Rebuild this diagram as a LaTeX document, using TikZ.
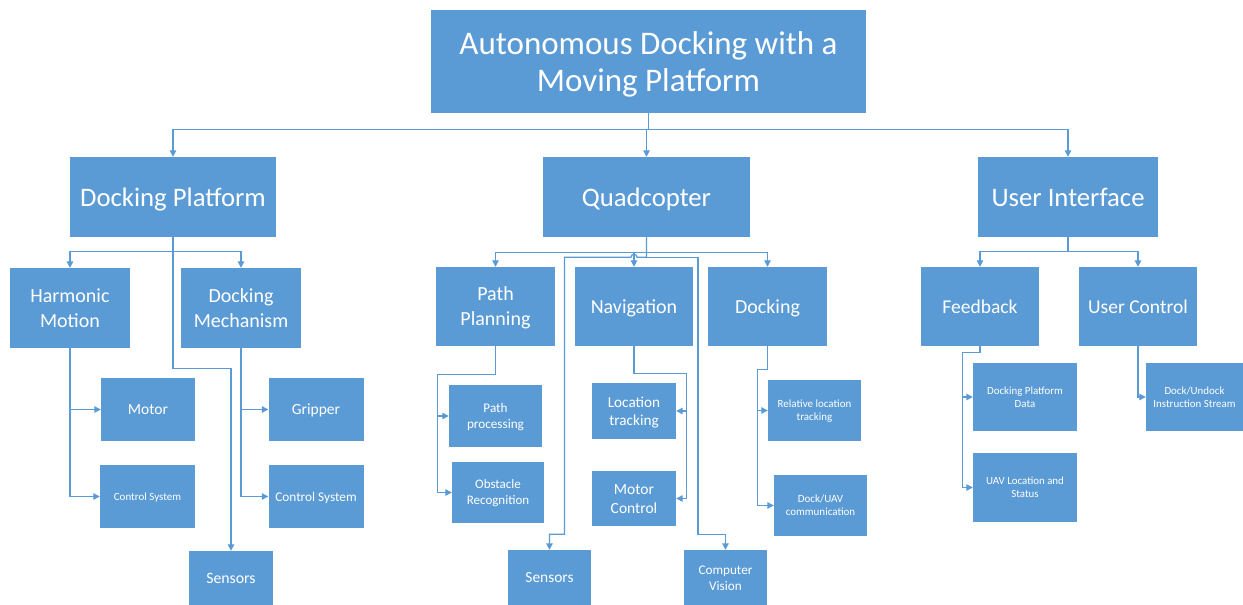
\documentclass[tikz,border=0pt]{standalone}
\usepackage{fontspec}
\setmainfont{Carlito}
\usetikzlibrary{arrows.meta}
\definecolor{boxblue}{HTML}{5B9BD5}
\definecolor{lineblue}{HTML}{5B9BD5}
\newcommand\Ts{\rule{0pt}{0.952em}}
\newcommand\Bs{\rule[-0.269em]{0pt}{0.269em}}
\tikzset{
  box/.style={fill=boxblue, text=white, inner sep=0pt, align=center},
  conn/.style={draw=lineblue, line width=1.2pt},
  arr/.style={conn, -{Triangle[length=6.5pt,width=6.5pt]}},
  fs/.style 2 args={font=\fontsize{#1}{#2}\selectfont},
}
\begin{document}
\begin{tikzpicture}[x=1pt,y=-1pt]
\useasboundingbox (0,0) rectangle (1243,605);
\fill[white] (0,0) rectangle (1243,605);

% root
\node[box, fs={33}{37.5}, minimum width=435, minimum height=103] (root) at (648.5,61.5) {\Ts Autonomous Docking with a\\Moving Platform\Bs};

% level 2
\node[box, fs={26.7}{30}, minimum width=206, minimum height=80] (dp) at (173,197) {\Ts Docking Platform\Bs};
\node[box, fs={26.7}{30}, minimum width=207, minimum height=80] (quad) at (646.5,197) {\Ts Quadcopter\Bs};
\node[box, fs={26.7}{30}, minimum width=180, minimum height=80] (ui) at (1068,197) {\Ts User Interface\Bs};

% docking platform subtree
\node[box, fs={20}{25}, minimum width=120, minimum height=80] (hm) at (70,308) {\Ts Harmonic\\Motion\Bs};
\node[box, fs={20}{25}, minimum width=120, minimum height=80] (dm) at (241,308) {\Ts Docking\\Mechanism\Bs};
\node[box, fs={15.5}{18}, minimum width=94, minimum height=63] (motor) at (148,409.5) {\Ts Motor\Bs};
\node[box, fs={11}{13}, minimum width=95, minimum height=63] (cs1) at (147.5,496.5) {\Ts Control System\Bs};
\node[box, fs={15.5}{18}, minimum width=95, minimum height=63] (grip) at (316,409.5) {\Ts Gripper\Bs};
\node[box, fs={13.3}{16}, minimum width=95, minimum height=63] (cs2) at (316,496.5) {\Ts Control System\Bs};
\node[box, fs={15.8}{18}, minimum width=84, minimum height=54] (sens1) at (231,578) {\Ts Sensors\Bs};

% quadcopter subtree
\node[box, fs={20}{25}, minimum width=119, minimum height=79] (pp) at (495.5,306.5) {\Ts Path\\Planning\Bs};
\node[box, fs={20}{25}, minimum width=118, minimum height=79] (nav) at (634,306.5) {\Ts Navigation\Bs};
\node[box, fs={20}{25}, minimum width=119, minimum height=79] (dock) at (767.5,306.5) {\Ts Docking\Bs};
\node[box, fs={13.2}{16}, minimum width=93, minimum height=62] (ppr) at (495.5,416) {\Ts Path\\processing\Bs};
\node[box, fs={13}{16}, minimum width=92, minimum height=61] (obs) at (498,492.5) {\Ts Obstacle\\Recognition\Bs};
\node[box, fs={15.2}{18}, minimum width=84, minimum height=56] (loc) at (634,411) {\Ts Location\\tracking\Bs};
\node[box, fs={15.5}{19}, minimum width=84, minimum height=55] (mc) at (634,498.5) {\Ts Motor\\Control\Bs};
\node[box, fs={11}{13}, minimum width=93, minimum height=61] (rel) at (814.5,410.5) {\Ts Relative location\\tracking\Bs};
\node[box, fs={11}{13}, minimum width=93, minimum height=61] (duav) at (820.5,505.5) {\Ts Dock/UAV\\communication\Bs};
\node[box, fs={15.4}{18}, minimum width=83, minimum height=55] (sens2) at (549.5,577.5) {\Ts Sensors\Bs};
\node[box, fs={13.2}{16}, minimum width=83, minimum height=55] (cv) at (725.5,577.5) {\Ts Computer\\Vision\Bs};

% user interface subtree
\node[box, fs={19.5}{24}, minimum width=118, minimum height=79] (fb) at (980,306.5) {\Ts Feedback\Bs};
\node[box, fs={19.5}{24}, minimum width=118, minimum height=79] (uc) at (1138,306.5) {\Ts User Control\Bs};
\node[box, fs={10.9}{13.3}, minimum width=104, minimum height=68] (dpd) at (1025,397) {\Ts Docking Platform\\Data\Bs};
\node[box, fs={10.9}{13.3}, minimum width=104, minimum height=69] (uav) at (1025,487.5) {\Ts UAV Location and\\Status\Bs};
\node[box, fs={10.9}{13.3}, minimum width=97, minimum height=68] (dud) at (1194.5,397) {\Ts Dock/Undock\\Instruction Stream\Bs};

% root connectors
\draw[arr] (root.south) |- ([yshift=27pt]dp.north) -- (dp.north);
\draw[arr] (root.south) |- ([yshift=27pt]quad.north) -- (quad.north);
\draw[arr] (root.south) |- ([yshift=27pt]ui.north) -- (ui.north);

% docking platform connectors
\draw[arr] (dp.south) |- ([yshift=16pt]hm.north) -- (hm.north);
\draw[arr] (dp.south) |- ([yshift=16pt]dm.north) -- (dm.north);
\draw[arr] (dp.south) -- ++(0,131) -| (sens1.north);
\draw[arr] (hm.south) |- (motor.west);
\draw[arr] (hm.south) |- (cs1.west);
\draw[arr] (dm.south) |- (grip.west);
\draw[arr] (dm.south) |- (cs2.west);

% quadcopter connectors
\draw[arr] (quad.south) |- ([yshift=14pt]pp.north) -- (pp.north);
\draw[arr] (quad.south) |- ([yshift=14pt]nav.north) -- (nav.north);
\draw[arr] (quad.south) |- ([yshift=14pt]dock.north) -- (dock.north);
\draw[arr] (quad.south) -- ++(0,20) -- ++(-9.5,0) arc[start angle=0,end angle=180,radius=3pt] -| ++(-66.5,277) -| (sens2.north);
\draw[arr] (quad.south) -- ++(0,20) -| ++(51.5,277) -| (cv.north);
\draw[arr] (pp.south) -- ++(0,28) -| ([xshift=-11pt]ppr.west) -- (ppr.west);
\draw[arr] (pp.south) -- ++(0,28) -| ([xshift=-14pt]obs.west) -- (obs.west);
\draw[arr] (nav.south) -- ++(0,27) -| ([xshift=10pt]loc.east) -- (loc.east);
\draw[arr] (nav.south) -- ++(0,27) -| ([xshift=10pt]mc.east) -- (mc.east);
\draw[arr] (dock.south) -- ++(0,23) -| ([xshift=-10pt]rel.west) -- (rel.west);
\draw[arr] (dock.south) -- ++(0,23) -| ([xshift=-16pt]duav.west) -- (duav.west);

% user interface connectors
\draw[arr] (ui.south) |- ([yshift=15pt]fb.north) -- (fb.north);
\draw[arr] (ui.south) |- ([yshift=15pt]uc.north) -- (uc.north);
\draw[arr] (fb.south) -- ++(0,6) -| ([xshift=-10pt]dpd.west) -- (dpd.west);
\draw[arr] (fb.south) -- ++(0,6) -| ([xshift=-10pt]uav.west) -- (uav.west);
\draw[arr] (uc.south) |- (dud.west);
\end{tikzpicture}
\end{document}
